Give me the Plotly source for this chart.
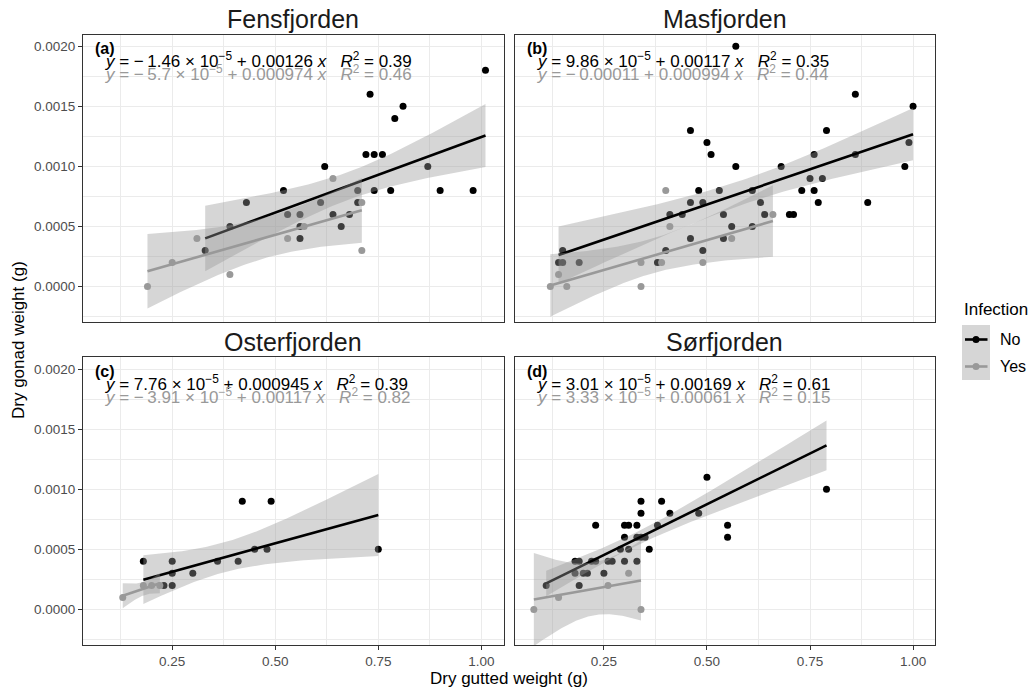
import math
import numpy as np
import plotly.graph_objects as go

# ---------------- data ----------------
fjords = ["Fensfjorden", "Masfjorden", "Osterfjorden", "Sørfjorden"]
tags = ["(a)", "(b)", "(c)", "(d)"]

fens_no_x = [0.33, 0.39, 0.43, 0.52, 0.53, 0.56, 0.56, 0.56, 0.61, 0.62, 0.64, 0.66, 0.68, 0.70, 0.70,
             0.72, 0.73, 0.74, 0.74, 0.76, 0.78, 0.79, 0.81, 0.87, 0.90, 0.98, 1.01]
fens_no_y = [0.0003, 0.0005, 0.0007, 0.0008, 0.0006, 0.0006, 0.0004, 0.0005, 0.0007, 0.0010, 0.0006,
             0.0005, 0.0006, 0.0008, 0.0007, 0.0011, 0.0016, 0.0011, 0.0008, 0.0011, 0.0008, 0.0014,
             0.0015, 0.0010, 0.0008, 0.0008, 0.0018]
fens_yes_x = [0.19, 0.25, 0.31, 0.39, 0.53, 0.57, 0.64, 0.71, 0.71]
fens_yes_y = [0.0000, 0.0002, 0.0004, 0.0001, 0.0004, 0.0005, 0.0009, 0.0007, 0.0003]

mas_no_x = [0.14, 0.15, 0.15, 0.19, 0.38, 0.40, 0.41, 0.44, 0.46, 0.46, 0.46, 0.48, 0.49, 0.49, 0.50,
            0.51, 0.53, 0.54, 0.54, 0.56, 0.57, 0.57, 0.61, 0.61, 0.63, 0.64, 0.68, 0.70, 0.71, 0.73,
            0.75, 0.76, 0.76, 0.77, 0.78, 0.79, 0.86, 0.86, 0.89, 0.98, 0.99, 1.00]
mas_no_y = [0.0002, 0.0002, 0.0003, 0.0002, 0.0002, 0.0003, 0.0006, 0.0006, 0.0004, 0.0007, 0.0013,
            0.0008, 0.0003, 0.0007, 0.0012, 0.0011, 0.0008, 0.0006, 0.0004, 0.0005, 0.0020, 0.0010,
            0.0008, 0.0005, 0.0007, 0.0006, 0.0010, 0.0006, 0.0006, 0.0008, 0.0009, 0.0011, 0.0008,
            0.0007, 0.0009, 0.0013, 0.0016, 0.0011, 0.0007, 0.0010, 0.0012, 0.0015]
mas_yes_x = [0.12, 0.14, 0.16, 0.34, 0.34, 0.39, 0.40, 0.41, 0.49, 0.56, 0.66]
mas_yes_y = [0.0000, 0.0001, 0.0000, 0.0002, 0.0000, 0.0002, 0.0008, 0.0005, 0.0002, 0.0004, 0.0006]

oster_no_x = [0.18, 0.23, 0.25, 0.25, 0.25, 0.30, 0.36, 0.41, 0.42, 0.45, 0.48, 0.49, 0.75]
oster_no_y = [0.0004, 0.0002, 0.0002, 0.0003, 0.0004, 0.0003, 0.0004, 0.0004, 0.0009, 0.0005,
              0.0005, 0.0009, 0.0005]
oster_yes_x = [0.13, 0.18, 0.20, 0.22]
oster_yes_y = [0.0001, 0.0002, 0.0002, 0.0002]

sor_no_x = [0.11, 0.18, 0.18, 0.19, 0.19, 0.20, 0.21, 0.22, 0.23, 0.23, 0.25, 0.26, 0.27, 0.29, 0.30,
            0.30, 0.30, 0.31, 0.31, 0.33, 0.33, 0.33, 0.34, 0.34, 0.34, 0.35, 0.36, 0.38, 0.39, 0.41,
            0.48, 0.50, 0.55, 0.55, 0.79]
sor_no_y = [0.0002, 0.0004, 0.0003, 0.0004, 0.0002, 0.0003, 0.0003, 0.0004, 0.0004, 0.0007, 0.0003,
            0.0004, 0.0004, 0.0005, 0.0007, 0.0006, 0.0004, 0.0007, 0.0005, 0.0007, 0.0006, 0.0004,
            0.0009, 0.0008, 0.0006, 0.0006, 0.0005, 0.0007, 0.0009, 0.0008, 0.0008, 0.0011, 0.0007,
            0.0006, 0.0010]
sor_yes_x = [0.08, 0.14, 0.26, 0.31, 0.34]
sor_yes_y = [0.0000, 0.0001, 0.0002, 0.0003, 0.0000]

# fitted coefficients as printed on the chart
intercept_no = [-1.46e-5, 9.86e-5, 7.76e-5, 3.01e-5]
slope_no = [0.00126, 0.00117, 0.000945, 0.00169]
r2_no = [0.39, 0.35, 0.39, 0.61]
intercept_yes = [-5.7e-5, -0.00011, -3.91e-5, 3.33e-5]
slope_yes = [0.000974, 0.000994, 0.00117, 0.00061]
r2_yes = [0.46, 0.44, 0.82, 0.15]

groups = [
    ((fens_no_x, fens_no_y), (fens_yes_x, fens_yes_y)),
    ((mas_no_x, mas_no_y), (mas_yes_x, mas_yes_y)),
    ((oster_no_x, oster_no_y), (oster_yes_x, oster_yes_y)),
    ((sor_no_x, sor_no_y), (sor_yes_x, sor_yes_y)),
]

x_ticks = [0.25, 0.50, 0.75, 1.00]
y_ticks = [0.0, 0.0005, 0.0010, 0.0015, 0.0020]

# ---------------- helpers ----------------
BLACK = "#000000"
GREY = "#999999"
RIBBON = "rgba(153,153,153,0.4)"
FONT = "Liberation Sans, Arial, sans-serif"
W, H = 1032, 690


def t_quantile(p, df):
    c = math.gamma((df + 1) / 2) / (math.sqrt(df * math.pi) * math.gamma(df / 2))

    def half(q):
        t = np.linspace(0, q, 4001)
        return np.trapezoid(c * (1 + t ** 2 / df) ** (-(df + 1) / 2), t)

    lo, hi = 0.0, 60.0
    for _ in range(60):
        mid = (lo + hi) / 2
        if half(mid) < p - 0.5:
            lo = mid
        else:
            hi = mid
    return (lo + hi) / 2


def fit_band(xs, ys, a, b):
    x = np.asarray(xs, float)
    y = np.asarray(ys, float)
    n = len(x)
    res = y - (a + b * x)
    s = math.sqrt(np.sum(res ** 2) / (n - 2))
    xbar = x.mean()
    sxx = np.sum((x - xbar) ** 2)
    g = np.linspace(x.min(), x.max(), 80)
    fit = a + b * g
    se = s * np.sqrt(1 / n + (g - xbar) ** 2 / sxx)
    t = t_quantile(0.975, n - 2)
    return g, fit, fit - t * se, fit + t * se


def fmt_num(v):
    if v != 0 and abs(v) < 1e-4:
        e = int(math.floor(math.log10(abs(v))))
        m = v / 10 ** e
        ms = f"{m:.3g}".replace("-", "\u2212\u2009")
        return f"{ms} × 10<sup>\u2212{-e}</sup>"
    return f"{v:.3g}".replace("-", "\u2212\u2009")


def eq_label(a, b, r2):
    sp = "\u00a0"
    return (f"<i>y</i> = {fmt_num(a)} + {fmt_num(b)} <i>x</i>{sp*3}"
            f"<i>R</i><sup>2</sup> = {r2:.2f}")


# ---------------- geometry (px) ----------------
col_left = [83.0, 514.7]
col_width = 420.5
row_top = [34.5, 357.3]
row_height = 287.8

xrange_ = [0.0336, 1.0537]
yrange_ = [-0.000297, 0.002098]

fig = go.Figure()
layout_axes = {}

for i, name in enumerate(fjords):
    col, row = i % 2, i // 2
    sfx = "" if i == 0 else str(i + 1)
    xa, ya = "x" + sfx, "y" + sfx
    (nx, ny), (yx, yy) = groups[i]

    # points
    fig.add_trace(go.Scatter(x=nx, y=ny, mode="markers", xaxis=xa, yaxis=ya,
                             marker=dict(color=BLACK, size=7), showlegend=False, hoverinfo="skip"))
    fig.add_trace(go.Scatter(x=yx, y=yy, mode="markers", xaxis=xa, yaxis=ya,
                             marker=dict(color=GREY, size=7), showlegend=False, hoverinfo="skip"))
    # smooths
    for (gx, gy), a, b, colr in [((nx, ny), intercept_no[i], slope_no[i], BLACK),
                                  ((yx, yy), intercept_yes[i], slope_yes[i], GREY)]:
        g, fit, lo, hi = fit_band(gx, gy, a, b)
        fig.add_trace(go.Scatter(x=np.concatenate([g, g[::-1]]), y=np.concatenate([hi, lo[::-1]]),
                                 mode="lines", fill="toself", fillcolor=RIBBON, line=dict(width=0),
                                 xaxis=xa, yaxis=ya, showlegend=False, hoverinfo="skip"))
        fig.add_trace(go.Scatter(x=g, y=fit, mode="lines", line=dict(color=colr, width=2.6),
                                 xaxis=xa, yaxis=ya, showlegend=False, hoverinfo="skip"))

    x0 = col_left[col]
    y0 = row_top[row]
    xdom = [x0 / W, (x0 + col_width) / W]
    ydom = [1 - (y0 + row_height) / H, 1 - y0 / H]
    bottom = row == 1
    left = col == 0
    layout_axes["xaxis" + sfx] = dict(
        domain=xdom, anchor=ya, range=xrange_, tickvals=x_ticks,
        ticktext=[f"{v:.2f}" for v in x_ticks], showticklabels=bottom,
        ticks="outside" if bottom else "", ticklen=4, tickcolor="#333333", tickwidth=1,
        showline=True, mirror=True, linecolor="#333333", linewidth=1,
        showgrid=True, gridcolor="#ebebeb", gridwidth=1.1, zeroline=False,
        minor=dict(tickvals=[0.125, 0.375, 0.625, 0.875], showgrid=True,
                   gridcolor="#ebebeb", gridwidth=0.55, ticks=""),
        tickfont=dict(family=FONT, size=13.5, color="#4d4d4d"))
    layout_axes["yaxis" + sfx] = dict(
        domain=ydom, anchor=xa, range=yrange_, tickvals=y_ticks,
        ticktext=[f"{v:.4f}" for v in y_ticks], showticklabels=left,
        ticks="outside" if left else "", ticklen=4, tickcolor="#333333", tickwidth=1,
        showline=True, mirror=True, linecolor="#333333", linewidth=1,
        showgrid=True, gridcolor="#ebebeb", gridwidth=1.1, zeroline=False,
        minor=dict(tickvals=[-0.00025, 0.00025, 0.00075, 0.00125, 0.00175], showgrid=True,
                   gridcolor="#ebebeb", gridwidth=0.55, ticks=""),
        tickfont=dict(family=FONT, size=13.5, color="#4d4d4d"))

annotations = []
for i, name in enumerate(fjords):
    col, row = i % 2, i // 2
    x0 = col_left[col]
    y0 = row_top[row]
    # strip title
    annotations.append(dict(text=name, x=(x0 + col_width / 2) / W, y=1 - (y0 - 15) / H,
                            xref="paper", yref="paper", showarrow=False, xanchor="center",
                            yanchor="middle", font=dict(family=FONT, size=25, color="#1a1a1a")))
    # tag
    annotations.append(dict(text=f"<b>{tags[i]}</b>", x=(x0 + 10) / W, y=1 - (y0 + 14.5) / H,
                            xref="paper", yref="paper", showarrow=False, xanchor="left",
                            yanchor="middle", font=dict(family=FONT, size=16, color="#000000")))
    # equations
    annotations.append(dict(text=eq_label(intercept_no[i], slope_no[i], r2_no[i]),
                            x=(x0 + 20) / W, y=1 - (y0 + 25.5) / H, xref="paper", yref="paper",
                            showarrow=False, xanchor="left", yanchor="middle",
                            font=dict(family=FONT, size=17, color=BLACK)))
    annotations.append(dict(text=eq_label(intercept_yes[i], slope_yes[i], r2_yes[i]),
                            x=(x0 + 20) / W, y=1 - (y0 + 38.5) / H, xref="paper", yref="paper",
                            showarrow=False, xanchor="left", yanchor="middle",
                            font=dict(family=FONT, size=17, color=GREY)))

# axis titles
annotations.append(dict(text="Dry gutted weight (g)", x=(83 + 934.7) / 2 / W, y=1 - 678 / H,
                        xref="paper", yref="paper", showarrow=False, xanchor="center",
                        yanchor="middle", font=dict(family=FONT, size=17, color="#000000")))
annotations.append(dict(text="Dry gonad weight (g)", x=18 / W, y=1 - 340 / H, textangle=-90,
                        xref="paper", yref="paper", showarrow=False, xanchor="center",
                        yanchor="middle", font=dict(family=FONT, size=17, color="#000000")))

# legend (drawn manually to mimic ggplot key with ribbon background)
shapes = []
shapes.append(dict(type="rect", xref="paper", yref="paper", x0=962 / W, x1=990 / W,
                   y0=1 - 380 / H, y1=1 - 325 / H, fillcolor="#d6d6d6", line=dict(width=0),
                   layer="above"))
legend_items = [("No", BLACK, 339.5), ("Yes", GREY, 366.5)]
for lab, colr, yy in legend_items:
    shapes.append(dict(type="line", xref="paper", yref="paper", x0=965 / W, x1=987.5 / W,
                       y0=1 - yy / H, y1=1 - yy / H, line=dict(color=colr, width=2.6), layer="above"))
    shapes.append(dict(type="circle", xref="paper", yref="paper", x0=(976 - 3.5) / W,
                       x1=(976 + 3.5) / W, y0=1 - (yy + 3.5) / H, y1=1 - (yy - 3.5) / H,
                       fillcolor=colr, line=dict(width=0), layer="above"))
    annotations.append(dict(text=lab, x=998 / W, y=1 - yy / H, xref="paper", yref="paper",
                            showarrow=False, xanchor="left", yanchor="middle",
                            font=dict(family=FONT, size=16, color="#000000")))
annotations.append(dict(text="Infection", x=962 / W, y=1 - 309 / H, xref="paper", yref="paper",
                        showarrow=False, xanchor="left", yanchor="middle",
                        font=dict(family=FONT, size=17, color="#000000")))

fig.update_layout(width=W, height=H, margin=dict(l=0, r=0, t=0, b=0),
                  paper_bgcolor="white", plot_bgcolor="white", showlegend=False,
                  annotations=annotations, shapes=shapes, **layout_axes)

fig.write_html("out.html")
